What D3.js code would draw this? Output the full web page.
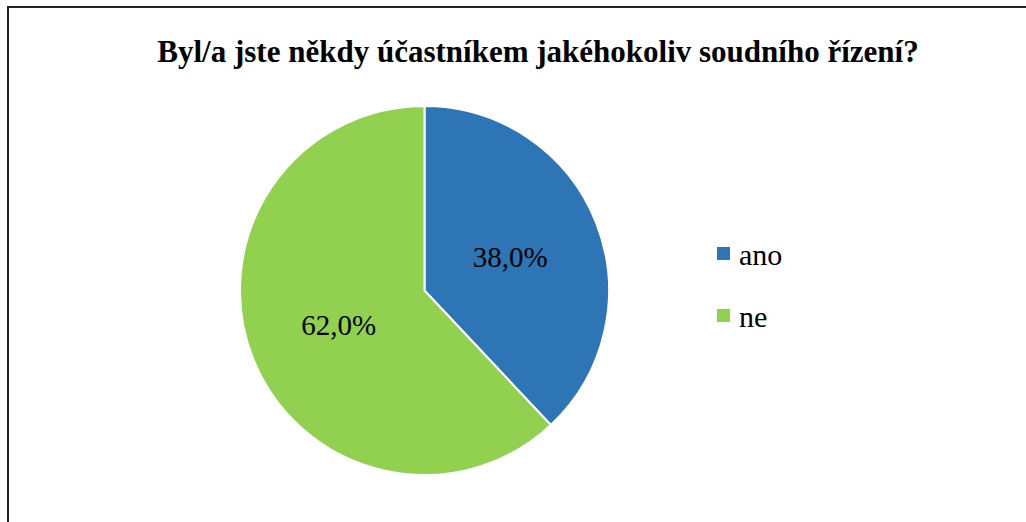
<!DOCTYPE html>
<html><head><meta charset="utf-8">
<script src="https://cdn.jsdelivr.net/npm/d3@7/dist/d3.min.js"></script>
<style>body{margin:0;background:#fff;} svg{display:block;}</style>
</head><body>
<svg id="c" width="1026" height="522"></svg>
<script>
const title = "Byl/a jste někdy účastníkem jakéhokoliv soudního řízení?";
const categories = ["ano", "ne"];
const values = [38.0, 62.0];
const colors = ["#2E75B6", "#92D050"];

const svg = d3.select("#c");
const font = "Liberation Serif";

svg.append("rect").attr("x", 8).attr("y", 7).attr("width", 1040).attr("height", 540)
  .attr("fill", "#fff").attr("stroke", "#222").attr("stroke-width", 2);

svg.append("text").attr("x", 538).attr("y", 62).attr("text-anchor", "middle")
  .attr("font-family", font).attr("font-weight", "bold").attr("font-size", 31)
  .attr("fill", "#000").text(title);

const cx = 424.5, cy = 290.5, r = 184.5;
const pie = d3.pie().sort(null).value(d => d)(values);
const arc = d3.arc().innerRadius(0).outerRadius(r);
const labelArc = d3.arc().innerRadius(r * 0.5).outerRadius(r * 0.5);
const g = svg.append("g").attr("transform", `translate(${cx},${cy})`);
g.selectAll("path").data(pie).join("path")
  .attr("d", arc).attr("fill", (d, i) => colors[i])
  .attr("stroke", "#fff").attr("stroke-width", 2).attr("stroke-linejoin", "round");
const fmt = v => v.toFixed(1).replace(".", ",") + "%";
g.selectAll("text").data(pie).join("text")
  .attr("transform", d => `translate(${labelArc.centroid(d)})`)
  .attr("text-anchor", "middle").attr("dy", "0.35em")
  .attr("font-family", font).attr("font-size", 29).attr("fill", "#000")
  .text(d => fmt(d.data));

const leg = svg.append("g");
categories.forEach((c, i) => {
  const y = 254 + i * 62;
  leg.append("rect").attr("x", 717).attr("y", y - 7).attr("width", 13).attr("height", 13).attr("fill", colors[i]);
  leg.append("text").attr("x", 739).attr("y", y).attr("dy", "0.35em")
    .attr("font-family", font).attr("font-size", 30).attr("fill", "#000").text(c);
});
</script>
</body></html>
